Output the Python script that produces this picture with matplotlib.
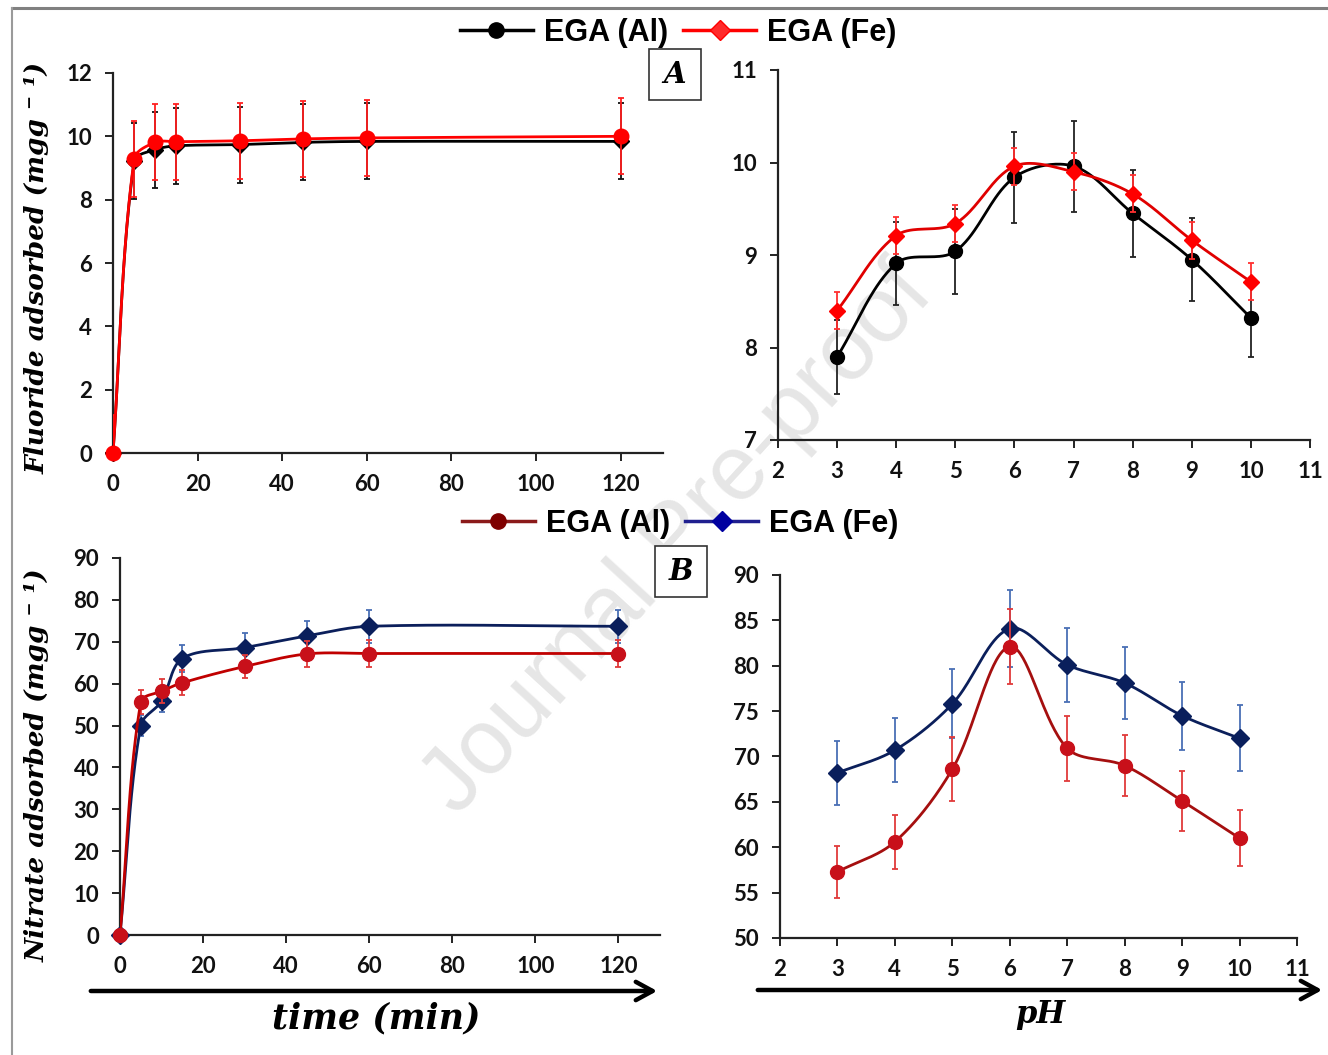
import numpy as np
import matplotlib
matplotlib.use("Agg")
import matplotlib.pyplot as plt
from matplotlib.lines import Line2D
from matplotlib.patches import FancyArrowPatch, Rectangle

# ---------------- data ----------------
time_min = [0, 5, 10, 15, 30, 45, 60, 120]
ph_values = [3, 4, 5, 6, 7, 8, 9, 10]

# Fluoride uptake vs contact time (mg/g)
f_time_al = [0, 9.21, 9.58, 9.70, 9.74, 9.81, 9.84, 9.84]
f_time_al_err = [1.2, 1.2, 1.2, 1.2, 1.2, 1.2, 1.2, 1.2]
f_time_fe = [0, 9.28, 9.81, 9.83, 9.86, 9.92, 9.95, 10.0]
f_time_fe_err = [1.2, 1.2, 1.2, 1.2, 1.2, 1.2, 1.2, 1.2]

# Fluoride uptake vs pH (mg/g)
f_ph_al = [7.90, 8.91, 9.04, 9.84, 9.96, 9.45, 8.95, 8.32]
f_ph_al_err = [0.40, 0.45, 0.46, 0.49, 0.49, 0.47, 0.45, 0.42]
f_ph_fe = [8.40, 9.21, 9.34, 9.96, 9.90, 9.66, 9.16, 8.71]
f_ph_fe_err = [0.20, 0.20, 0.20, 0.20, 0.20, 0.20, 0.20, 0.20]

# Nitrate uptake vs contact time (mg/g)
n_time_al = [0, 55.6, 58.2, 60.2, 64.1, 67.1, 67.2, 67.2]
n_time_al_err = [0, 2.8, 2.9, 3.0, 2.8, 3.2, 3.3, 3.3]
n_time_fe = [0, 50.0, 55.8, 66.0, 68.6, 71.4, 73.7, 73.7]
n_time_fe_err = [0, 2.5, 2.6, 3.3, 3.5, 3.5, 3.9, 3.9]

# Nitrate uptake vs pH (mg/g)
n_ph_al = [57.3, 60.6, 68.6, 82.1, 70.9, 69.0, 65.1, 61.0]
n_ph_al_err = [2.85, 3.0, 3.5, 4.1, 3.6, 3.4, 3.3, 3.05]
n_ph_fe = [68.2, 70.7, 75.8, 84.1, 80.1, 78.1, 74.5, 72.0]
n_ph_fe_err = [3.5, 3.55, 3.8, 4.2, 4.1, 3.95, 3.75, 3.65]

series_labels = ["EGA (Al)", "EGA (Fe)"]

# ---------------- style ----------------
plt.rcParams["font.family"] = ["Lato", "DejaVu Sans"]
plt.rcParams["font.weight"] = "bold"

W, H = 1328, 1055
fig = plt.figure(figsize=(W / 100, H / 100), dpi=100)
fig.patch.set_facecolor("white")

SERIF = ["DejaVu Serif"]


def add_ax(left, top, right, bottom):
    return fig.add_axes([left / W, 1 - bottom / H, (right - left) / W, (bottom - top) / H])


def style_ax(ax, xlim, ylim, xticks, yticks):
    ax.set_xlim(*xlim)
    ax.set_ylim(*ylim)
    ax.set_xticks(xticks)
    ax.set_yticks(yticks)
    ax.set_facecolor("none")
    for s in ("top", "right"):
        ax.spines[s].set_visible(False)
    for s in ("left", "bottom"):
        ax.spines[s].set_color("#222222")
        ax.spines[s].set_linewidth(1.6)
    ax.tick_params(axis="both", direction="out", length=6, width=1.4,
                   color="#222222", labelsize=16, labelcolor="#111111")
    ax.tick_params(axis="x", pad=9)
    ax.tick_params(axis="y", pad=9)


def smooth(ax, x, y, n=40):
    """Smoothed line through the points: cubic Bezier segments in display space,
    with tangent handles scaled by the neighbouring segment lengths."""
    P = ax.transData.transform(np.column_stack([x, y]))
    d = np.hypot(*np.diff(P, axis=0).T)
    m = len(P)
    T = np.zeros_like(P)
    T[0] = (P[1] - P[0]) / d[0]
    T[-1] = (P[-1] - P[-2]) / d[-1]
    for i in range(1, m - 1):
        T[i] = (P[i + 1] - P[i - 1]) / (d[i - 1] + d[i])
    t = np.linspace(0, 1, n)[:, None]
    out = []
    for i in range(m - 1):
        p1, p2 = P[i], P[i + 1]
        c1 = p1 + T[i] * d[i] / 3.0
        c2 = p2 - T[i + 1] * d[i] / 3.0
        seg = ((1 - t) ** 3) * p1 + 3 * ((1 - t) ** 2) * t * c1 + 3 * (1 - t) * (t ** 2) * c2 + (t ** 3) * p2
        out.append(seg if i == 0 else seg[1:])
    curve = ax.transData.inverted().transform(np.vstack(out))
    return curve[:, 0], curve[:, 1]


def draw_series(ax, x, y, err, line_c, err_c, mark_c, marker, ms, lw=2.0, z=3):
    ax.errorbar(x, y, yerr=err, fmt="none", ecolor=err_c, elinewidth=1.3,
                capsize=2.2, capthick=1.3, zorder=z)
    sx, sy = smooth(ax, x, y)
    ax.plot(sx, sy, color=line_c, lw=lw, zorder=z + 0.1, solid_capstyle="round")
    ax.plot(x, y, ls="none", marker=marker, ms=ms, color=mark_c,
            markeredgecolor=mark_c, zorder=z + 0.2, clip_on=False)


# ---------------- A: fluoride ----------------
axA1 = add_ax(113, 73, 663, 453)
style_ax(axA1, (0, 130), (0, 12), [0, 20, 40, 60, 80, 100, 120], [0, 2, 4, 6, 8, 10, 12])
draw_series(axA1, time_min, f_time_al, f_time_al_err, "#000000", "#111111", "#000000", "D", 8, z=3)
draw_series(axA1, time_min, f_time_fe, f_time_fe_err, "#FF0000", "#FF2020", "#FF0000", "o", 10.5, z=4)

axA2 = add_ax(778, 70, 1310, 440)
style_ax(axA2, (2, 11), (7, 11), list(range(2, 12)), [7, 8, 9, 10, 11])
draw_series(axA2, ph_values, f_ph_al, f_ph_al_err, "#000000", "#222222", "#000000", "o", 10, z=3)
draw_series(axA2, ph_values, f_ph_fe, f_ph_fe_err, "#E00000", "#FF3030", "#FF0000", "D", 8, z=4)

# ---------------- B: nitrate ----------------
axB1 = add_ax(120, 558, 660, 935)
style_ax(axB1, (0, 130), (0, 90), [0, 20, 40, 60, 80, 100, 120], list(range(0, 91, 10)))
draw_series(axB1, time_min, n_time_fe, n_time_fe_err, "#0B1F5B", "#4A6FB5", "#0A1F5C", "D", 9, z=3)
draw_series(axB1, time_min, n_time_al, n_time_al_err, "#C00000", "#E03A3A", "#C8101A", "o", 10, z=4)

axB2 = add_ax(780, 575, 1297, 938)
style_ax(axB2, (2, 11), (50, 90), list(range(2, 12)), list(range(50, 91, 5)))
draw_series(axB2, ph_values, n_ph_fe, n_ph_fe_err, "#0B1F5B", "#4A6FB5", "#0A1F5C", "D", 9, z=3)
draw_series(axB2, ph_values, n_ph_al, n_ph_al_err, "#A50F0F", "#E03A3A", "#C8101A", "o", 10, z=4)

# ---------------- legends ----------------
leg_kw = dict(loc="center", ncol=2, frameon=False, handlelength=2.4,
              handletextpad=0.35, columnspacing=0.5,
              prop={"family": "Liberation Sans", "weight": "bold", "size": 22})
hA = [Line2D([], [], color="#000000", lw=2.5, marker="o", ms=11),
      Line2D([], [], color="#FF0000", lw=2.5, marker="D", ms=10, markerfacecolor="#FF2A2A")]
fig.legend(hA, series_labels, bbox_to_anchor=(678 / W, 1 - 33 / H), **leg_kw)
hB = [Line2D([], [], color="#8B1A1A", lw=2.5, marker="o", ms=11, markerfacecolor="#7F0000",
             markeredgecolor="#7F0000"),
      Line2D([], [], color="#1F1F8F", lw=2.5, marker="D", ms=10, markerfacecolor="#0000A0",
             markeredgecolor="#0000A0")]
fig.legend(hB, series_labels, bbox_to_anchor=(680 / W, 1 - 524 / H), **leg_kw)

# ---------------- panel tags ----------------
for tag, (l, t, r, b) in (("A", (649, 49, 701, 100)), ("B", (655, 546, 707, 597))):
    fig.add_artist(Rectangle((l / W, 1 - b / H), (r - l) / W, (b - t) / H,
                             transform=fig.transFigure, facecolor="white",
                             edgecolor="#333333", lw=1.2, zorder=5))
    fig.text((l + r) / 2 / W, 1 - (t + b) / 2 / H, tag, ha="center", va="center",
             family=SERIF, style="italic", weight="bold", fontsize=21, zorder=6)

# ---------------- axis titles ----------------
fig.text(37 / W, 1 - 268 / H, "Fluoride adsorbed (mgg ⁻ ¹)", rotation=90,
         ha="center", va="center", family=SERIF, style="italic", weight="bold", fontsize=19)
fig.text(37 / W, 1 - 765 / H, "Nitrate adsorbed (mgg ⁻ ¹)", rotation=90,
         ha="center", va="center", family=SERIF, style="italic", weight="bold", fontsize=19)
fig.text(376 / W, 1 - 1018 / H, "time (min)", ha="center", va="center",
         family=SERIF, style="italic", weight="bold", fontsize=25)
fig.text(1040 / W, 1 - 1014 / H, "pH", ha="center", va="center",
         family=SERIF, style="italic", weight="bold", fontsize=22)

for x0, x1, y in ((88, 660, 991), (755, 1325, 990)):
    fig.add_artist(FancyArrowPatch((x0 / W, 1 - y / H), (x1 / W, 1 - y / H),
                                   transform=fig.transFigure,
                                   arrowstyle="->,head_length=0.55,head_width=0.3",
                                   mutation_scale=22, lw=3.2, color="#000000"))

# ---------------- page frame and watermark ----------------
fig.add_artist(Line2D([12 / W, 1], [1 - 8 / H, 1 - 8 / H], transform=fig.transFigure,
                      color="#808080", lw=2.2))
fig.add_artist(Line2D([12 / W, 12 / W], [0, 1 - 8 / H], transform=fig.transFigure,
                      color="#9a9a9a", lw=1.5))
fig.text(678 / W, 1 - 540 / H, "Journal Pre-proof", rotation=47.5, ha="center", va="center",
         family="Liberation Sans", weight="normal", fontsize=66, color="#e6e6e6", zorder=-1)

fig.savefig("out.png", dpi=100)
